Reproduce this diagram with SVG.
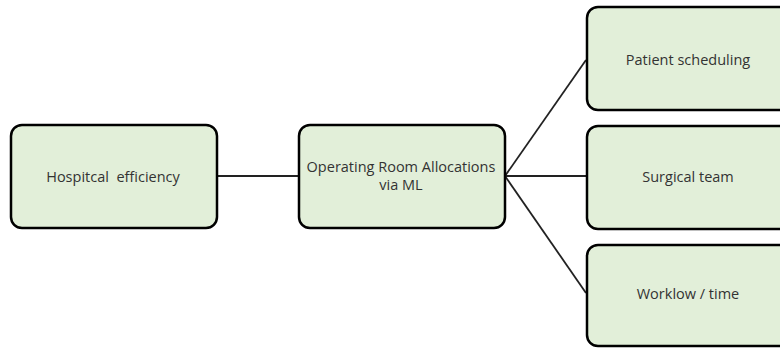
<svg xmlns="http://www.w3.org/2000/svg" width="780" height="348" viewBox="0 0 780 348">
<style>
.box{fill:#e2efd9;stroke:#000;stroke-width:2.5}
.lbl{font-family:"Open Sans","Liberation Sans",sans-serif;font-size:14.5px;fill:#333;text-anchor:middle;white-space:pre}
.con{stroke:#222;stroke-width:1.8;fill:none}
</style>
<rect width="780" height="348" fill="#fff"/>
<g id="connectors">
<line class="con" x1="217" y1="176" x2="298" y2="176"/>
<line class="con" x1="505" y1="176" x2="586" y2="60"/>
<line class="con" x1="505" y1="176" x2="586" y2="176"/>
<line class="con" x1="505" y1="176" x2="586" y2="293"/>
</g>
<g id="hospital">
<rect class="box" x="11" y="125" width="206" height="103" rx="11"/>
<text class="lbl" x="113" y="182" xml:space="preserve">Hospitcal  efficiency</text>
</g>
<g id="or-allocations">
<rect class="box" x="299" y="125" width="206" height="103" rx="11"/>
<text class="lbl" x="401" y="172">Operating Room Allocations</text>
<text class="lbl" x="401" y="190">via ML</text>
</g>
<g id="patient">
<rect class="box" x="587" y="7" width="210" height="103" rx="11"/>
<text class="lbl" x="688" y="65">Patient scheduling</text>
</g>
<g id="surgical">
<rect class="box" x="587" y="126" width="210" height="103" rx="11"/>
<text class="lbl" x="688" y="182">Surgical team</text>
</g>
<g id="workflow">
<rect class="box" x="587" y="245" width="210" height="101" rx="11"/>
<text class="lbl" x="688" y="299">Worklow / time</text>
</g>
</svg>
